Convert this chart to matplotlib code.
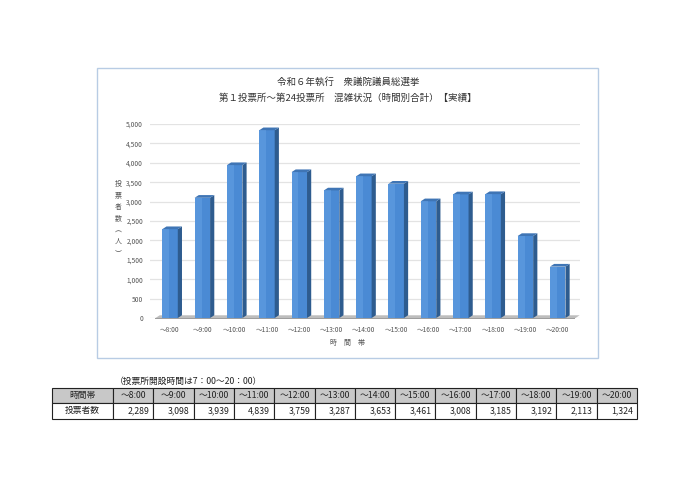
import matplotlib
matplotlib.use("Agg")
import matplotlib.pyplot as plt
from matplotlib.patches import Rectangle, Polygon
import numpy as np

plt.rcParams['font.family'] = ['Noto Sans CJK JP', 'DejaVu Sans']

categories = ["～8:00", "～9:00", "～10:00", "～11:00", "～12:00", "～13:00", "～14:00",
              "～15:00", "～16:00", "～17:00", "～18:00", "～19:00", "～20:00"]
voters = [2289, 3098, 3939, 4839, 3759, 3287, 3653, 3461, 3008, 3185, 3192, 2113, 1324]
yticks = [0, 500, 1000, 1500, 2000, 2500, 3000, 3500, 4000, 4500, 5000]
title1 = "令和６年執行　衆議院議員総選挙"
title2 = "第１投票所～第24投票所　混雑状況（時間別合計）【実績】"
xlabel = "時　間　帯"
ylabel = "投票者数（人）"
note = "（投票所開設時間は7：00～20：00）"
row_header = "時間帯"
row_label = "投票者数"

W, H = 700, 495
fig = plt.figure(figsize=(7.0, 4.95), dpi=100)

def fx(px):
    return px / W

def fy(py):
    return 1 - py / H

# Chart frame
fig.patches.append(Rectangle((fx(97), fy(358)), fx(598) - fx(97), fy(68) - fy(358),
                             transform=fig.transFigure, facecolor='white',
                             edgecolor='#B8CCE4', linewidth=1.0, zorder=-5))

fig.text(fx(348), fy(82), title1, ha='center', va='center', fontsize=6.8, color='#333333')
fig.text(fx(348), fy(98), title2, ha='center', va='center', fontsize=6.8, color='#333333')

ax = fig.add_axes([fx(150), fy(318), fx(580) - fx(150), fy(124) - fy(318)])
ax.set_zorder(2)
ax.set_facecolor('none')
for s in ax.spines.values():
    s.set_visible(False)
ax.set_ylim(0, 5000)
ax.set_xlim(-0.62, 12.69)
ax.set_yticks(yticks)
ax.set_yticklabels([f"{v:,}" for v in yticks], fontsize=4.8, color='#555555')
ax.tick_params(axis='y', length=0, pad=5)
ax.grid(axis='y', color='#E3E3E3', linewidth=0.9)
ax.set_axisbelow(True)

x = np.arange(len(categories))
ax.set_xticks(x)
ax.set_xticklabels(categories, fontsize=4.8, color='#555555')
ax.tick_params(axis='x', length=0, pad=6)

bw = 0.48
dx = 0.13
dy = 70

# floor shadow
ax.add_patch(Polygon([(-0.45, 0), (12.55, 0), (12.55 + dx, dy), (-0.45 + dx, dy)],
                     closed=True, facecolor='#BDBDBD', edgecolor='none', zorder=1))
ax.add_patch(Polygon([(-0.45, -25), (12.55, -25), (12.55, 0), (-0.45, 0)],
                     closed=True, facecolor='#9E9E9E', edgecolor='none', zorder=1,
                     clip_on=False))

ax.bar(x, voters, width=bw, color='#4A8AD4', edgecolor='none', zorder=3)
for xi, v in zip(x, voters):
    r = xi + bw / 2
    l = xi - bw / 2
    ax.add_patch(Polygon([(r, 0), (r + dx, dy), (r + dx, v + dy), (r, v)], closed=True,
                         facecolor='#2E5C8F', edgecolor='none', zorder=3))
    ax.add_patch(Polygon([(l, v), (r, v), (r + dx, v + dy), (l + dx, v + dy)], closed=True,
                         facecolor='#3F75B5', edgecolor='none', zorder=3))
    ax.add_patch(Rectangle((l, 0), bw * 0.45, v, facecolor='#6AA5E6', edgecolor='none',
                           alpha=0.45, zorder=3))

fig.text(fx(348), fy(343), xlabel, ha='center', va='center', fontsize=5.0, color='#555555')
fig.text(fx(118), fy(219), "投\n票\n者\n数\n︵\n人\n︶", ha='center', va='center',
         fontsize=5.0, color='#555555', linespacing=1.6)

# Note
fig.text(fx(115), fy(381), note, ha='left', va='center', fontsize=6.3, color='#222222')

# Table
col_w = [61] + [40.3] * 13
tx0 = 52
ty_top = 388
rows = [(row_header, categories, 15), (row_label, [f"{v:,}" for v in voters], 16)]
y = ty_top
for ri, (lab, vals, rh) in enumerate(rows):
    xcur = tx0
    cells = [lab] + list(vals)
    for ci, (txt, cw) in enumerate(zip(cells, col_w)):
        fc = '#C8C8C8' if ri == 0 else 'white'
        fig.patches.append(Rectangle((fx(xcur), fy(y + rh)), fx(cw), fy(y) - fy(y + rh),
                                     transform=fig.transFigure, facecolor=fc,
                                     edgecolor='#222222', linewidth=0.8))
        if ri == 0 or ci == 0:
            fig.text(fx(xcur + cw / 2), fy(y + rh / 2), txt, ha='center', va='center',
                     fontsize=6.3, color='#222222')
        else:
            fig.text(fx(xcur + cw - 4), fy(y + rh / 2), txt, ha='right', va='center',
                     fontsize=6.3, color='#222222')
        xcur += cw
    y += rh

fig.savefig("out.png", dpi=100, facecolor='white')
